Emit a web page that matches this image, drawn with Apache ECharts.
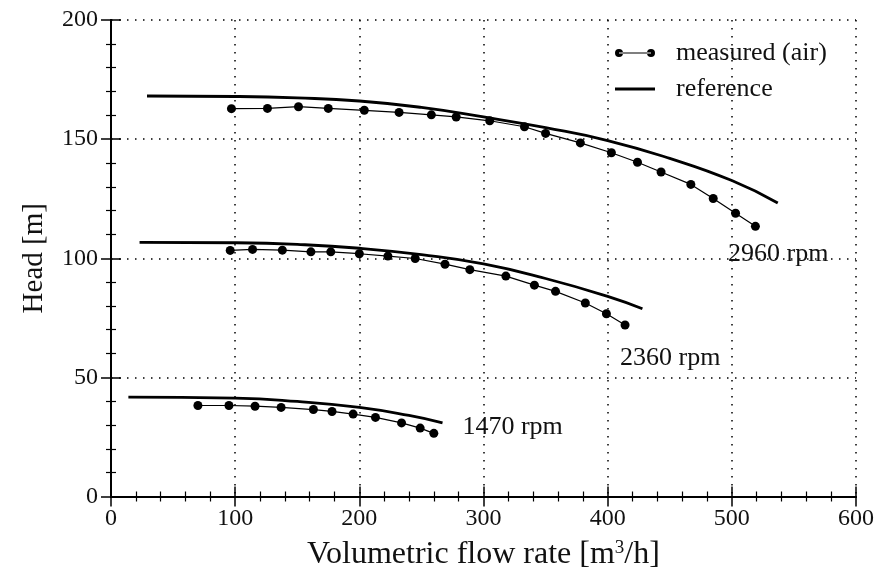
<!DOCTYPE html>
<html>
<head>
<meta charset="utf-8">
<script src="https://cdn.jsdelivr.net/npm/echarts@6/dist/echarts.min.js"></script>
<style>
  html, body { margin: 0; padding: 0; background: #fff; }
  #chart { width: 887px; height: 577px; }
</style>
</head>
<body>
<div id="chart"></div>
<script>
// measured (air) points
const q2960 = [97, 126, 151, 175, 204, 232, 258, 278, 305, 333, 350, 378, 403, 424, 443, 467, 485, 503, 519];
const h2960 = [162.8, 162.9, 163.6, 162.9, 162.1, 161.2, 160.2, 159.3, 157.7, 155.2, 152.4, 148.4, 144.3, 140.3, 136.2, 131.0, 125.1, 118.9, 113.4];
const q2360 = [96, 114, 138, 161, 177, 200, 223, 245, 269, 289, 318, 341, 358, 382, 399, 414];
const h2360 = [103.3, 103.7, 103.4, 102.7, 102.7, 101.9, 100.9, 99.9, 97.5, 95.2, 92.5, 88.7, 86.1, 81.2, 76.7, 72.0];
const q1470 = [70, 95, 116, 137, 163, 178, 195, 213, 234, 249, 260];
const h1470 = [38.2, 38.2, 37.9, 37.4, 36.5, 35.7, 34.6, 33.2, 30.9, 28.7, 26.5];

// reference curves
const qRef2960 = [29, 100, 150, 200, 250, 300, 350, 400, 450, 500, 537];
const hRef2960 = [168.1, 167.9, 167.3, 166.0, 163.3, 159.3, 154.8, 149.4, 141.9, 132.6, 123.2];
const qRef2360 = [23, 100, 150, 200, 250, 300, 350, 400, 428];
const hRef2360 = [106.7, 106.5, 105.8, 104.2, 101.5, 97.6, 91.5, 84.0, 78.8];
const qRef1470 = [14, 100, 150, 200, 240, 267];
const hRef1470 = [41.7, 41.3, 39.9, 37.4, 34.0, 30.9];

const speeds = ['2960 rpm', '2360 rpm', '1470 rpm'];

const FONT = 'Liberation Serif';
const zip = (a, b) => a.map((v, i) => [v, b[i]]);

const measuredIcon = 'path://M0,5a4,4 0 1,0 8,0a4,4 0 1,0 -8,0Z M32,5a4,4 0 1,0 8,0a4,4 0 1,0 -8,0Z M4,4.4L36,4.4L36,5.6L4,5.6Z';
const referenceIcon = 'path://M0,3.6L40,3.6L40,6.4L0,6.4Z';

const tickCommon = {
    axisLine: { show: true, lineStyle: { color: '#000', width: 2 } },
    axisTick: { show: true, inside: true, length: 10, lineStyle: { color: '#000', width: 1.5 } },
    minorTick: { show: true, splitNumber: 5, length: 5, lineStyle: { color: '#000', width: 1.2 } },
    splitLine: { show: false }
};

const dotted = { show: true, lineStyle: { color: '#000', width: 1.5, type: [1.5, 6.5] } };

function measured(q, h) {
    return {
        name: 'measured (air)',
        type: 'line',
        data: zip(q, h),
        symbol: 'circle',
        symbolSize: 9,
        itemStyle: { color: '#000' },
        lineStyle: { color: '#000', width: 1.2 },
        z: 3
    };
}

function reference(q, h, label, at) {
    return {
        name: 'reference',
        type: 'line',
        data: zip(q, h),
        symbol: 'none',
        smooth: 0.5,
        itemStyle: { color: '#000' },
        lineStyle: { color: '#000', width: 2.8 },
        markPoint: {
            symbolSize: 0,
            label: {
                show: true,
                position: 'inside',
                align: 'left',
                verticalAlign: 'middle',
                formatter: label,
                color: '#111',
                fontFamily: FONT,
                fontSize: 26
            },
            data: [{ coord: at }]
        },
        z: 2
    };
}

const option = {
    animation: false,
    backgroundColor: '#fff',
    grid: { left: 111, right: 31, top: 20, bottom: 80.5, outerBoundsMode: 'none' },
    legend: {
        orient: 'vertical',
        left: 610,
        top: 35,
        itemWidth: 40,
        itemHeight: 10,
        itemGap: 10,
        itemStyle: { borderWidth: 0 },
        textStyle: { fontFamily: FONT, fontSize: 26, color: '#111', padding: [0, 0, 0, 16] },
        data: [
            { name: 'measured (air)', icon: measuredIcon },
            { name: 'reference', icon: referenceIcon }
        ]
    },
    xAxis: [
        Object.assign({
            type: 'value', min: 0, max: 600, interval: 100,
            name: 'Volumetric flow rate [m{sup|3}/h]',
            nameLocation: 'middle',
            nameGap: 42,
            nameTextStyle: {
                fontFamily: FONT, fontSize: 32, color: '#111',
                rich: { sup: { fontFamily: FONT, fontSize: 19, color: '#111', verticalAlign: 'top', padding: [0, 0, 13, 0] } }
            },
            axisLabel: { fontFamily: FONT, fontSize: 24, color: '#111', margin: 10 }
        }, tickCommon, { splitLine: dotted }),
        Object.assign({
            type: 'value', min: 0, max: 600, interval: 100, position: 'top',
            axisLabel: { show: false }
        }, tickCommon)
    ],
    yAxis: [
        Object.assign({
            type: 'value', min: 0, max: 200, interval: 50,
            name: 'Head [m]',
            nameLocation: 'middle',
            nameGap: 62,
            nameTextStyle: { fontFamily: FONT, fontSize: 29, color: '#111' },
            axisLabel: { fontFamily: FONT, fontSize: 24, color: '#111', margin: 13 }
        }, tickCommon, { splitLine: dotted }),
        Object.assign({
            type: 'value', min: 0, max: 200, interval: 50, position: 'right',
            axisLabel: { show: false }
        }, tickCommon)
    ],
    series: [
        measured(q2960, h2960),
        reference(qRef2960, hRef2960, speeds[0], [497, 101.7]),
        measured(q2360, h2360),
        reference(qRef2360, hRef2360, speeds[1], [410, 58.2]),
        measured(q1470, h1470),
        reference(qRef1470, hRef1470, speeds[2], [283, 29.2])
    ]
};

const chart = echarts.init(document.getElementById('chart'));
chart.setOption(option);
</script>
</body>
</html>
